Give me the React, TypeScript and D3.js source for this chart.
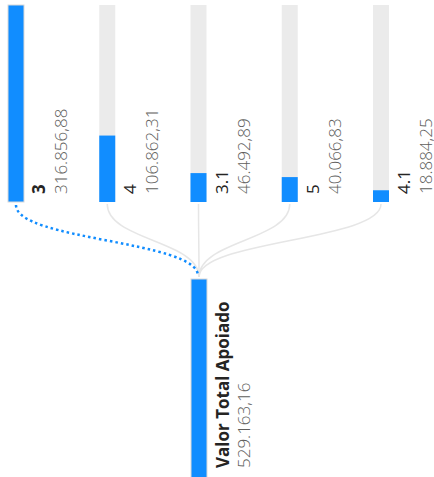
import React from "react";
import * as d3 from "d3";

const categories = ["3", "4", "3.1", "5", "4.1"];
const values = [316856.88, 106862.31, 46492.89, 40066.83, 18884.25];
const rootLabel = "Valor Total Apoiado";
const rootValue = 529163.16;
const selectedIndex = 0;

const W = 434;
const H = 477;
const BLUE = "#118DFF";
const TRACK = "#EBEBEB";
const FONT = "'Open Sans', 'Segoe UI', sans-serif";

const locale = d3.formatLocale({
  decimal: ",",
  thousands: ".",
  grouping: [3],
  currency: ["R$", ""],
});
const fmt = locale.format(",.2f");

export default function App() {
  const barW = 16;
  const x = d3.scalePoint<string>().domain(categories).range([16, 381]);
  const maxV = d3.max(values) as number;
  const yTop = d3.scaleLinear().domain([0, maxV]).range([202, 5]);
  const rootTop = 279;
  const yRoot = d3.scaleLinear().domain([0, rootValue]).range([rootTop + 197, rootTop]);
  const rootX = 199;
  const link = d3
    .linkVertical<any, { source: [number, number]; target: [number, number] }, [number, number]>()
    .source((d) => d.source)
    .target((d) => d.target);

  return (
    <svg
      width={W}
      height={H}
      style={{ position: "fixed", left: 0, top: 0, background: "#fff" }}
    >
      {/* links */}
      {categories.map((c, i) =>
        i === selectedIndex ? null : (
          <path
            key={"l" + c}
            d={link({ source: [x(c)!, 204], target: [rootX, 277] }) || ""}
            fill="none"
            stroke="#E6E6E6"
            strokeWidth={1.5}
          />
        )
      )}
      <path
        d={
          link({
            source: [x(categories[selectedIndex])!, 205],
            target: [rootX - 1, 276],
          }) || ""
        }
        fill="none"
        stroke={BLUE}
        strokeWidth={2.5}
        strokeDasharray="2.5 3"
      />
      {/* top level bars */}
      {categories.map((c, i) => {
        const cx = x(c)!;
        const left = cx - barW / 2;
        const sel = i === selectedIndex;
        return (
          <g key={c}>
            <rect x={left} y={yTop(maxV)} width={barW} height={yTop(0) - yTop(maxV)} fill={TRACK} />
            <rect
              x={left}
              y={yTop(values[i])}
              width={barW}
              height={yTop(0) - yTop(values[i])}
              fill={BLUE}
              stroke={sel ? "#D9D9D9" : "none"}
              strokeWidth={sel ? 1 : 0}
            />
            <text
              transform={`translate(${left + barW + 21},194) rotate(-90)`}
              fontFamily={FONT}
              fontSize={17}
              fontWeight={sel ? 700 : 400}
              fill="#252423"
            >
              {c}
            </text>
            <text
              transform={`translate(${left + barW + 43},194) rotate(-90)`}
              fontFamily={FONT}
              fontSize={17}
              fontWeight={300}
              fill="#605E5C"
            >
              {fmt(values[i])}
            </text>
          </g>
        );
      })}
      {/* root bar */}
      <rect
        x={rootX - barW / 2}
        y={yRoot(rootValue)}
        width={barW}
        height={yRoot(0) - yRoot(rootValue) + 2}
        fill={BLUE}
        stroke="#D9D9D9"
        strokeWidth={1}
      />
      <text
        transform={`translate(${rootX + barW / 2 + 22},468) rotate(-90)`}
        fontFamily={FONT}
        fontSize={17}
        fontWeight={700}
        fill="#252423"
      >
        {rootLabel}
      </text>
      <text
        transform={`translate(${rootX + barW / 2 + 43},468) rotate(-90)`}
        fontFamily={FONT}
        fontSize={17}
        fontWeight={300}
        fill="#605E5C"
      >
        {fmt(rootValue)}
      </text>
    </svg>
  );
}
